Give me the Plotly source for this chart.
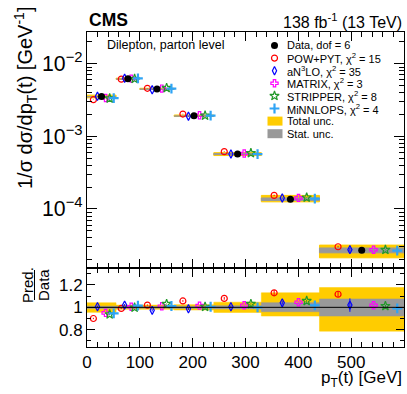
import plotly.graph_objects as go

# ---------------- data ----------------
bin_edges = [0, 55, 100, 165, 240, 330, 440, 600]
data_vals = [3.55e-3, 6.2e-3, 4.5e-3, 1.92e-3, 5.7e-4, 1.36e-4, 2.7e-5]
tot_up = [0.041, 0.020, 0.020, 0.024, 0.046, 0.130, 0.177]
tot_dn = [0.045, 0.018, 0.018, 0.024, 0.046, 0.078, 0.213]
stat_up = [0.010, 0.008, 0.008, 0.010, 0.015, 0.042, 0.075]
stat_dn = [0.010, 0.008, 0.008, 0.010, 0.015, 0.039, 0.078]

ratio_pow = [0.90, 0.99, 1.02, 1.057, 1.08, 1.13, 1.117]
ratio_an3lo = [1.005, 1.02, 0.973, 0.987, 1.005, 1.04, 1.02]
ratio_matrix = [0.95, 1.005, 1.01, 1.015, 1.018, 1.045, 1.018]
ratio_stripper = [0.937, 0.997, 1.03, 1.005, 1.03, 1.057, 1.012]
ratio_minnlops = [0.946, 1.015, 1.012, 1.005, 1.0, 1.018, 0.99]

err_pow = [0.006, 0.006, 0.006, 0.008, 0.012, 0.025, 0.025]
err_an3lo = [0.01, 0.01, 0.01, 0.01, 0.012, 0.015, 0.06]
err_matrix = [0.004, 0.004, 0.004, 0.005, 0.006, 0.008, 0.01]
err_stripper = [0.004, 0.004, 0.004, 0.005, 0.006, 0.008, 0.01]
err_minnlops = [0.004, 0.004, 0.004, 0.005, 0.006, 0.008, 0.01]

model_names = ["POW+PYT, χ<sup>2</sup> = 15", "aN<sup>3</sup>LO, χ<sup>2</sup> = 35",
               "MATRIX, χ<sup>2</sup> = 3", "STRIPPER, χ<sup>2</sup> = 8",
               "MiNNLOPS, χ<sup>2</sup> = 4"]
data_label = "Data, dof = 6"
header_left = "<b>CMS</b>"
header_right = "138 fb<sup>-1</sup> (13 TeV)"
region_label = "Dilepton, parton level"

# ---------------- styles ----------------
FONT = "Liberation Sans, Arial, sans-serif"
GOLD = "#ffcc00"
GREY = "#999999"
models = [
    dict(r=ratio_pow, e=err_pow, color="#ff0000", symbol="circle-open", size=6, lw=1.2, k=-2),
    dict(r=ratio_an3lo, e=err_an3lo, color="#0000ff", symbol="diamond-tall-open", size=6, lw=1.2, k=-1),
    dict(r=ratio_matrix, e=err_matrix, color="#ff00ff", symbol="cross-open", size=6, lw=1.2, k=1),
    dict(r=ratio_stripper, e=err_stripper, color="#22992a", symbol="star-open", size=7, lw=1.2, k=2),
    dict(r=ratio_minnlops, e=err_minnlops, color="#2fa4f5", symbol="cross-thin-open", size=7, lw=2.2, k=3),
]
OFFSET = 0.14

W, H = 407, 394
L, R, T, B = 87, 3, 32, 47
PW, PH = W - L - R, H - T - B
split = (347 - 268) / PH


def px(x):
    return (x - L) / PW


def py(y):
    return (H - B - y) / PH


lo = bin_edges[:-1]
hi = bin_edges[1:]
centers = [(a + b) / 2 for a, b in zip(lo, hi)]
widths = [b - a for a, b in zip(lo, hi)]


def band(yc, up, dn):
    xs, ys = [], []
    for a, b, c, u, d in zip(lo, hi, yc, up, dn):
        top = c * (1 + u)
        bot = c * (1 - d)
        xs += [a, b, b, a, a, None]
        ys += [bot, bot, top, top, bot, None]
    return xs, ys


fig = go.Figure()

# bands: top panel
for up, dn, col in [(tot_up, tot_dn, GOLD), (stat_up, stat_dn, GREY)]:
    xs, ys = band(data_vals, up, dn)
    fig.add_trace(go.Scatter(x=xs, y=ys, fill="toself", fillcolor=col, mode="lines",
                             line=dict(color=col, width=1), hoverinfo="skip",
                             showlegend=False, xaxis="x", yaxis="y"))
# bands: ratio panel
ones = [1.0] * len(data_vals)
for up, dn, col in [(tot_up, tot_dn, GOLD), (stat_up, stat_dn, GREY)]:
    xs, ys = band(ones, up, dn)
    fig.add_trace(go.Scatter(x=xs, y=ys, fill="toself", fillcolor=col, mode="lines",
                             line=dict(color=col, width=0.5), hoverinfo="skip",
                             showlegend=False, xaxis="x2", yaxis="y2"))

# predictions
for m in models:
    xpos = [c + m["k"] * OFFSET * w for c, w in zip(centers, widths)]
    yv = [d * r for d, r in zip(data_vals, m["r"])]
    ye = [d * e for d, e in zip(data_vals, m["e"])]
    mk = dict(symbol=m["symbol"], size=m["size"], color=m["color"],
              line=dict(color=m["color"], width=m["lw"]))
    fig.add_trace(go.Scatter(x=xpos, y=yv, mode="markers", marker=mk,
                             error_y=dict(type="data", array=ye, color=m["color"], thickness=1, width=0),
                             showlegend=False, xaxis="x", yaxis="y"))
    fig.add_trace(go.Scatter(x=xpos, y=m["r"], mode="markers", marker=mk,
                             error_y=dict(type="data", array=m["e"], color=m["color"], thickness=1, width=0),
                             showlegend=False, xaxis="x2", yaxis="y2"))

# data
fig.add_trace(go.Scatter(x=centers, y=data_vals, mode="markers",
                         marker=dict(symbol="circle", size=7, color="black"),
                         showlegend=False, xaxis="x", yaxis="y"))

# ---------------- manual legend ----------------
leg_x_marker = 274.5
leg_x_text = 285
leg_y0 = 45.5
leg_dy = 12.6
leg_font = dict(family=FONT, size=11, color="black")
legend_items = [(data_label, dict(symbol="circle", size=7, color="black"))]
for name, m in zip(model_names, models):
    legend_items.append((name, dict(symbol=m["symbol"], size=m["size"], color=m["color"],
                                    line=dict(color=m["color"], width=m["lw"]))))
for i, (name, mk) in enumerate(legend_items):
    yy = leg_y0 + i * leg_dy
    fig.add_trace(go.Scatter(x=[leg_x_marker], y=[yy], mode="markers", marker=mk,
                             showlegend=False, xaxis="x3", yaxis="y3", cliponaxis=False,
                             hoverinfo="skip"))
    fig.add_annotation(x=px(leg_x_text), y=py(yy), xref="paper", yref="paper", text=name,
                       showarrow=False, xanchor="left", yanchor="middle", font=leg_font)
shapes = []
for j, (name, col) in enumerate([("Total unc.", GOLD), ("Stat. unc.", GREY)]):
    yy = leg_y0 + (len(legend_items) + j) * leg_dy
    shapes.append(dict(type="rect", xref="paper", yref="paper", x0=px(267.5), x1=px(282.5),
                       y0=py(yy + 4.5), y1=py(yy - 4.5), fillcolor=col, line=dict(width=0),
                       layer="above"))
    fig.add_annotation(x=px(leg_x_text), y=py(yy), xref="paper", yref="paper", text=name,
                       showarrow=False, xanchor="left", yanchor="middle", font=leg_font)

# ratio line at 1
shapes.append(dict(type="line", xref="x2 domain", yref="y2", x0=0, x1=1, y0=1, y1=1,
                   line=dict(color="black", width=1), layer="above"))
# fraction bar of ratio title
shapes.append(dict(type="line", xref="paper", yref="paper", x0=px(34.5), x1=px(34.5),
                   y0=py(300), y1=py(270), line=dict(color="black", width=1)))

# texts
fig.add_annotation(x=px(87), y=py(20), xref="paper", yref="paper", text=header_left,
                   showarrow=False, xanchor="left", yanchor="middle",
                   font=dict(family=FONT, size=17.5, color="black"))
fig.add_annotation(x=px(404), y=py(21), xref="paper", yref="paper", text=header_right,
                   showarrow=False, xanchor="right", yanchor="middle",
                   font=dict(family=FONT, size=16, color="black"))
fig.add_annotation(x=px(105), y=py(45), xref="paper", yref="paper", text=region_label,
                   showarrow=False, xanchor="left", yanchor="middle",
                   font=dict(family=FONT, size=12.5, color="black"))
fig.add_annotation(x=px(25), y=py(98), xref="paper", yref="paper",
                   text="1/σ dσ/dp<sub>T</sub>(t) [GeV<sup>-1</sup>]", textangle=-90,
                   showarrow=False, xanchor="center", yanchor="middle",
                   font=dict(family=FONT, size=20, color="black"))
fig.add_annotation(x=px(27), y=py(285), xref="paper", yref="paper", text="Pred.", textangle=-90,
                   showarrow=False, xanchor="center", yanchor="middle",
                   font=dict(family=FONT, size=15, color="black"))
fig.add_annotation(x=px(43), y=py(285), xref="paper", yref="paper", text="Data", textangle=-90,
                   showarrow=False, xanchor="center", yanchor="middle",
                   font=dict(family=FONT, size=15, color="black"))
fig.add_annotation(x=px(404), y=py(379), xref="paper", yref="paper",
                   text="p<sub>T</sub>(t) [GeV]",
                   showarrow=False, xanchor="right", yanchor="middle",
                   font=dict(family=FONT, size=17, color="black"))

tickfont = dict(family=FONT, size=17, color="black")
common_x = dict(range=[0, 600], ticks="inside", mirror="allticks", showline=True,
                linecolor="black", linewidth=1, ticklen=9, tickcolor="black",
                tick0=0, dtick=100, showgrid=False, zeroline=False,
                minor=dict(ticks="inside", ticklen=5, dtick=20, tickcolor="black", showgrid=False))

fig.update_layout(
    width=W, height=H, margin=dict(l=L, r=R, t=T, b=B),
    paper_bgcolor="white", plot_bgcolor="rgba(0,0,0,0)",
    showlegend=False, font=dict(family=FONT, color="black"),
    xaxis=dict(domain=[0, 1], anchor="y", showticklabels=False, **common_x),
    yaxis=dict(domain=[split, 1], anchor="x", type="log", range=[-4.813, -1.563],
               ticks="inside", mirror="allticks", showline=True, linecolor="black",
               linewidth=1, ticklen=10, tickcolor="black", dtick=1,
               exponentformat="power", showexponent="all", tickfont=tickfont,
               showgrid=False, zeroline=False,
               minor=dict(ticks="inside", ticklen=5, dtick="D1", tickcolor="black", showgrid=False)),
    xaxis2=dict(domain=[0, 1], anchor="y2", matches="x", tickfont=tickfont, **common_x),
    yaxis2=dict(domain=[0, split], anchor="x2", range=[0.645, 1.352],
                ticks="inside", mirror="allticks", showline=True, linecolor="black",
                linewidth=1, ticklen=8, tickcolor="black", tick0=0, dtick=0.2,
                tickfont=tickfont, showgrid=False, zeroline=False,
                minor=dict(ticks="inside", ticklen=4, dtick=0.1, tickcolor="black", showgrid=False)),
    xaxis3=dict(domain=[0, 1], anchor="y3", range=[L, W - R], visible=False, fixedrange=True),
    yaxis3=dict(domain=[0, 1], anchor="x3", range=[H - B, T], visible=False, fixedrange=True),
    shapes=shapes,
)

fig.write_html("out.html", config={"displayModeBar": False},
               post_script="document.body.style.margin='0';")
